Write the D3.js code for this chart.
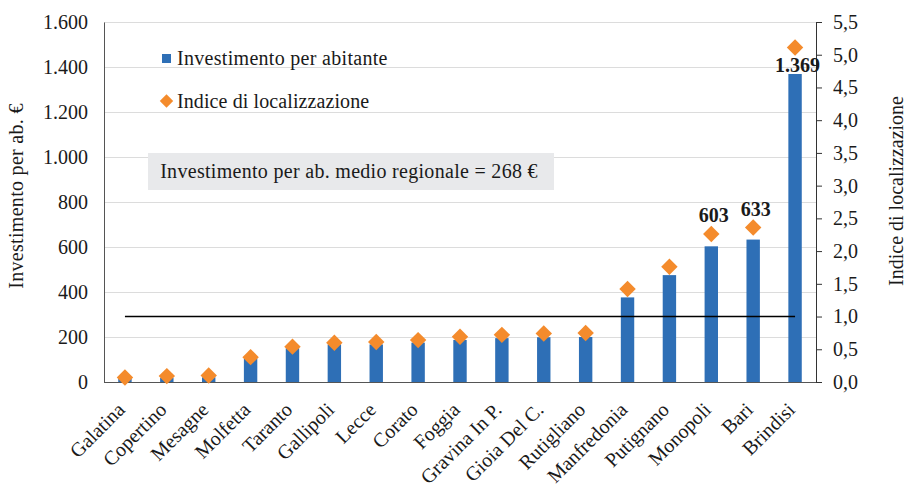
<!DOCTYPE html>
<html><head><meta charset="utf-8">
<script src="https://cdn.jsdelivr.net/npm/d3@7/dist/d3.min.js"></script>
<style>body{margin:0;background:#fff}svg{display:block}text{font-family:"Liberation Serif","DejaVu Serif",serif;fill:#1a1a1a}</style>
</head><body><svg id="c" width="907" height="490"></svg>
<script>
const categories = ["Galatina","Copertino","Mesagne","Molfetta","Taranto","Gallipoli","Lecce","Corato","Foggia","Gravina In P.","Gioia Del C.","Rutigliano","Manfredonia","Putignano","Monopoli","Bari","Brindisi"];
const investimento = [15,19,21,105,150,167,167,175,187,195,199,200,376,475,603,633,1369];
const indice = [0.07,0.09,0.10,0.38,0.54,0.60,0.61,0.64,0.69,0.72,0.74,0.75,1.42,1.76,2.26,2.36,5.11];
const labelled = ["Monopoli","Bari","Brindisi"];
const leftTicks = [0,200,400,600,800,1000,1200,1400,1600];
const rightTicks = [0,0.5,1,1.5,2,2.5,3,3.5,4,4.5,5,5.5];
const media = 268;
const mediaIndex = 1.0;

const svg = d3.select("#c");
const L=104, R=816, T=22, B=382;
const FS = "20px";
const x = d3.scaleBand().domain(categories).range([L,R]).paddingInner(0.68).paddingOuter(0.34);
const y = d3.scaleLinear().domain([0,1600]).range([B,T]);
const y2 = d3.scaleLinear().domain([0,5.5]).range([B,T]);
const itFmt = v => d3.format(",")(v).replace(/,/g,".");
const itFmt1 = v => d3.format(".1f")(v).replace(".",",");

// gridlines
svg.append("g").selectAll("line").data(leftTicks.filter(d=>d>0)).join("line")
  .attr("x1",L).attr("x2",R).attr("y1",d=>y(d)+0.5).attr("y2",d=>y(d)+0.5)
  .attr("stroke","#dcdcdc").attr("stroke-width",1);

// left axis
const ga = svg.append("g").attr("transform",`translate(${L},0)`)
  .call(d3.axisLeft(y).tickValues(leftTicks).tickFormat(itFmt).tickSize(0).tickPadding(16));
ga.select(".domain").attr("stroke","#555");
ga.selectAll("text").style("font-size",FS).style("font-family","Liberation Serif").attr("fill","#1a1a1a");

// right axis
const gr = svg.append("g").attr("transform",`translate(${R},0)`)
  .call(d3.axisRight(y2).tickValues(rightTicks).tickFormat(itFmt1).tickSize(6).tickPadding(11));
gr.select(".domain").attr("stroke","#333");
gr.selectAll("line").attr("stroke","#333");
gr.selectAll("text").style("font-size",FS).style("font-family","Liberation Serif").attr("fill","#1a1a1a");

// bottom axis
const gb = svg.append("g").attr("transform",`translate(0,${B})`)
  .call(d3.axisBottom(x).tickSize(0).tickPadding(0));
gb.select(".domain").attr("stroke","#555").attr("d",`M${L},0.5H${R}`);
gb.selectAll("text").style("font-size","20px").style("font-family","Liberation Serif").attr("fill","#1a1a1a")
  .attr("text-anchor","end").attr("dy",null)
  .attr("transform","translate(1,29) rotate(-45)");

// bars
svg.append("g").selectAll("rect").data(categories).join("rect")
  .attr("x",d=>x(d)).attr("width",x.bandwidth())
  .attr("y",(d,i)=>y(investimento[i])).attr("height",(d,i)=>B-y(investimento[i]))
  .attr("fill","#2E6FB6");

// mean line
svg.append("line").attr("x1",x(categories[0])+x.bandwidth()/2).attr("x2",x(categories[categories.length-1])+x.bandwidth()/2)
  .attr("y1",y2(mediaIndex)).attr("y2",y2(mediaIndex)).attr("stroke","#000").attr("stroke-width",1.5);

// diamonds
const dsym = d3.symbol().type(d3.symbolSquare).size(135);
svg.append("g").selectAll("path").data(categories).join("path")
  .attr("d",dsym)
  .attr("transform",(d,i)=>`translate(${x(d)+x.bandwidth()/2},${y2(indice[i])}) rotate(45)`)
  .attr("fill","#F48B2C");

// data labels
svg.append("g").selectAll("text").data(labelled).join("text")
  .attr("x",d=>x(d)+x.bandwidth()/2+2.5)
  .attr("y",d=>{const i=categories.indexOf(d); const dy=y2(indice[i]); const by=y(investimento[i]);
     return dy-20 < T+30 ? by-2 : dy-12;})
  .attr("text-anchor","middle").style("font-size","20px").style("font-weight","bold")
  .text(d=>itFmt(investimento[categories.indexOf(d)]));

// legend
svg.append("rect").attr("x",162).attr("y",54).attr("width",9).attr("height",9).attr("fill","#2E6FB6");
svg.append("text").attr("x",177).attr("y",65).style("font-size",FS).style("letter-spacing","0.3px").text("Investimento per abitante");
svg.append("path").attr("d",d3.symbol().type(d3.symbolSquare).size(90)).attr("transform","translate(166.5,101) rotate(45)").attr("fill","#F48B2C");
svg.append("text").attr("x",177).attr("y",108).style("font-size",FS).style("letter-spacing","0.1px").text("Indice di localizzazione");

// box
svg.append("rect").attr("x",148).attr("y",153).attr("width",406).attr("height",37).attr("fill","#e8e9eb");
svg.append("text").attr("x",349).attr("y",178).attr("text-anchor","middle").style("font-size",FS).style("letter-spacing","0.3px")
  .text(`Investimento per ab. medio regionale = ${media} €`);

// axis titles
svg.append("text").attr("transform","translate(23,196) rotate(-90)").attr("text-anchor","middle").style("font-size",FS).style("letter-spacing","0.3px").text("Investimento per ab. €");
svg.append("text").attr("transform","translate(903,191) rotate(-90)").attr("text-anchor","middle").style("font-size",FS).text("Indice di localizzazione");
</script></body></html>
